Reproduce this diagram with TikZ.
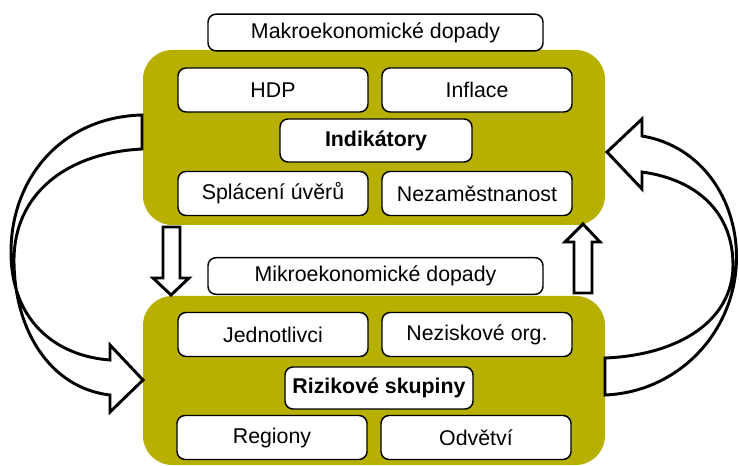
\documentclass[tikz,border=0pt]{standalone}
\usepackage{fontspec}
\setmainfont{Liberation Sans}
\usepackage{tikz}
\usetikzlibrary{positioning}
\usepackage{xcolor}
\definecolor{olivebg}{RGB}{183,176,0}

\begin{document}
\begin{tikzpicture}[x=0.75pt, y=-0.75pt,
        mycontainer/.style={fill=olivebg, draw=none, rounded corners=22pt, inner sep=0pt},
        itembox/.style={draw, fill=white, line width=1.1pt, rounded corners=6pt, inner sep=0pt,
            minimum width=142.5pt, minimum height=33pt, font=\fontsize{16}{19}\selectfont},
        titlebox/.style={itembox, minimum width=251.25pt, minimum height=27.5pt},
        keybox/.style={itembox, font=\fontsize{16}{19}\selectfont\bfseries}
    ]

    \useasboundingbox (0,0) rectangle (739,466);

    %styles
    \tikzstyle{blockarrow}=[draw, fill=white, line width=2.2pt, line join=miter]

    %containers
    \node[mycontainer, minimum width=346.5pt, minimum height=131.25pt] (c1) at (374,137.5) {};
    \node[mycontainer, minimum width=346.5pt, minimum height=126.75pt] (c2) at (374,380.5) {};

    %nodes
    \node[titlebox] (makro) at (375.5,32.5) {Makroekonomické dopady};
    \node[itembox] (hdp) at (273,90) {HDP};
    \node[itembox] (inflace) at (477,90) {Inflace};
    \node[keybox, minimum width=144pt, minimum height=32.25pt] (indik) at (376,140.5) {Indikátory};
    \node[itembox] (splaceni) at (273,193.5) {Splácení úvěrů};
    \node[itembox] (nezam) at (477,193.5) {Nezaměstnanost};

    \node[titlebox] (mikro) at (375.5,276) {Mikroekonomické dopady};
    \node[itembox] (jednot) at (273,334.5) {Jednotlivci};
    \node[itembox] (nezisk) at (477,334.5) {Neziskové org.};
    \node[keybox, minimum width=141pt, minimum height=31.5pt] (riziko) at (379,388) {Rizikové skupiny};
    \node[itembox] (regiony) at (272,437.5) {Regiony};
    \node[itembox] (odvetvi) at (476,437.5) {Odvětví};

    %arraws
    % down: makro -> mikro
    \draw[blockarrow] (163,227) -- (180,227) -- (180,278) -- (189,278) -- (171,295)
        -- (153,278) -- (163,278) -- cycle;
    % up: mikro -> makro
    \draw[blockarrow] (574,293) -- (592,293) -- (592,242) -- (600,242) -- (583,224)
        -- (565,242) -- (574,242) -- cycle;
    % left loop
    \draw[blockarrow] (142,115) .. controls (62,117) and (11,178) .. (11,252)
        .. controls (11,320) and (55,356) .. (110,360)
        -- (110,345) -- (143,380) -- (110,412) -- (110,395)
        .. controls (50,388) and (14,330) .. (14,260)
        .. controls (14,195) and (65,153) .. (142,149) -- cycle;
    % right loop
    \draw[blockarrow] (605,358) .. controls (680,355) and (733,320) .. (733,265)
        .. controls (733,215) and (700,180) .. (642,172)
        -- (642,189) -- (607,152) -- (642,119) -- (642,136)
        .. controls (702,146) and (736.5,200) .. (736.5,257)
        .. controls (736.5,330) and (680,392) .. (605,395) -- cycle;

\end{tikzpicture}
\end{document}
